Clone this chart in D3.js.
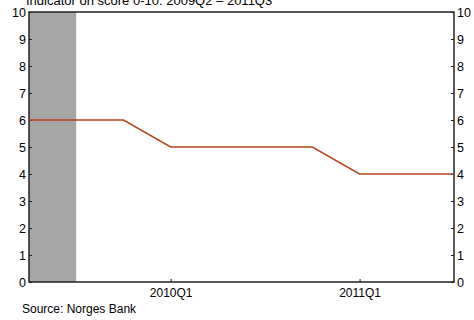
<!DOCTYPE html>
<html>
<head>
<meta charset="utf-8">
<script src="https://cdn.jsdelivr.net/npm/d3@7"></script>
<style>
  body { margin: 0; background: #fff; }
  text { font-family: "Liberation Sans", Arial, sans-serif; fill: #000; }
</style>
</head>
<body>
<script>
// quarters shown on the x axis
var quarters = ["2009Q2", "2009Q3", "2009Q4", "2010Q1", "2010Q2", "2010Q3",
    "2010Q4", "2011Q1", "2011Q2", "2011Q3"];
var indicator = [6, 6, 6, 5, 5, 5, 5, 4, 4, 4];
var xTickLabels = ["2010Q1", "2011Q1"];
var yTicks = [0, 1, 2, 3, 4, 5, 6, 7, 8, 9, 10];
var shaded = ["2009Q2", "2009Q3"]; // grey band

var W = 474, H = 320;
var margin = {top: 12, right: 20, bottom: 38, left: 29};

var svg = d3.select("body").append("svg")
    .attr("width", W)
    .attr("height", H);

var x = d3.scalePoint()
    .domain(quarters)
    .range([margin.left, W - margin.right]);

var y = d3.scaleLinear()
    .domain([0, 10])
    .range([H - margin.bottom, margin.top]);

// shaded period
svg.append("rect")
    .attr("x", x(shaded[0]))
    .attr("y", y(10))
    .attr("width", x(shaded[1]) - x(shaded[0]))
    .attr("height", y(0) - y(10))
    .style("fill", "#a6a6a6");

// frame
svg.append("rect")
    .attr("x", margin.left)
    .attr("y", margin.top)
    .attr("width", W - margin.right - margin.left)
    .attr("height", H - margin.bottom - margin.top)
    .style("fill", "none")
    .style("stroke", "#222")
    .style("stroke-width", 1.5);

// left axis, ticks inside
svg.append("g")
    .attr("transform", "translate(" + margin.left + ",0)")
    .call(d3.axisRight(y).tickValues(yTicks).tickSize(3).tickFormat(d3.format("d")))
    .call(g => g.select(".domain").remove())
    .call(g => g.selectAll("line").style("stroke", "#222"))
    .selectAll("text")
    .attr("x", -3)
    .attr("text-anchor", "end")
    .style("font-size", "12.5px");

// right axis, ticks inside
svg.append("g")
    .attr("transform", "translate(" + (W - margin.right) + ",0)")
    .call(d3.axisLeft(y).tickValues(yTicks).tickSize(3).tickFormat(d3.format("d")))
    .call(g => g.select(".domain").remove())
    .call(g => g.selectAll("line").style("stroke", "#222"))
    .selectAll("text")
    .attr("x", 3)
    .attr("text-anchor", "start")
    .style("font-size", "12.5px");

// bottom axis
svg.append("g")
    .attr("transform", "translate(0," + (H - margin.bottom) + ")")
    .call(d3.axisTop(x).tickValues(xTickLabels).tickSize(3))
    .call(g => g.select(".domain").remove())
    .call(g => g.selectAll("line").style("stroke", "#222"))
    .selectAll("text")
    .attr("y", 15)
    .style("font-size", "12px");

// the indicator line
var line = d3.line()
    .x(function(d, i) { return x(quarters[i]); })
    .y(function(d) { return y(d); });

svg.append("path")
    .datum(indicator)
    .attr("d", line)
    .style("fill", "none")
    .style("stroke", "#b5441a")
    .style("stroke-width", 1.5);

// title, partly cut off at the top
svg.append("text")
    .attr("x", 26)
    .attr("y", 5)
    .style("font-size", "13px")
    .text("Indicator on score 0-10. 2009Q2 \u2013 2011Q3");

svg.append("text")
    .attr("x", 22)
    .attr("y", 313)
    .style("font-size", "12px")
    .text("Source: Norges Bank");
</script>
</body>
</html>
